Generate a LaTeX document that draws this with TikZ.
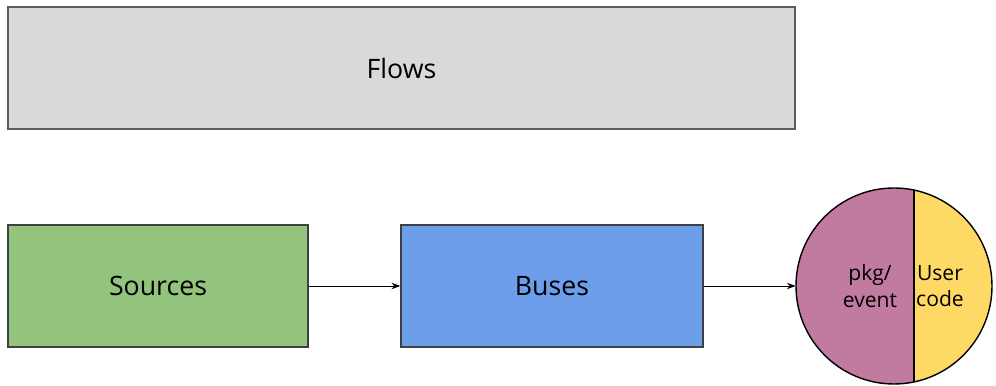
\documentclass[tikz,border=0pt]{standalone}
\usepackage{fontspec}
\setmainfont{Open Sans}
\usetikzlibrary{arrows.meta}
\definecolor{flowgray}{HTML}{D9D9D9}
\definecolor{srcgreen}{HTML}{93C47D}
\definecolor{busblue}{HTML}{6D9EEB}
\definecolor{pkgpink}{HTML}{C27BA0}
\definecolor{codeyellow}{HTML}{FFD966}
\definecolor{edgegray}{HTML}{404040}

\begin{document}
\begin{tikzpicture}[
    block/.style={draw=edgegray,line width=1pt,minimum height=3.05cm,font=\fontsize{19}{22}\selectfont},
    link/.style={-{Stealth[length=2.2mm,width=1.6mm]},line width=0.7pt},
    part/.style={font=\fontsize{15}{19}\selectfont,align=center}
]
\useasboundingbox (0,0) rectangle (24.9,9.65);

\node (flows) at (10.0375,7.95) [block,fill=flowgray,minimum width=19.675cm,draw=edgegray!85,line width=1.3pt] {Flows};

\node (sources) at (3.95,2.5) [block,fill=srcgreen,minimum width=7.5cm] {Sources};
\node (buses) at (13.8,2.5) [block,fill=busblue,minimum width=7.55cm] {Buses};

% handler: pkg/event on the left, user code on the right
\node (handler) at (22.35,2.5) [circle,minimum size=4.9cm,fill=pkgpink] {};
\begin{scope}
\clip (handler.center) circle (2.45);
\fill[codeyellow] (22.85,0) rectangle (24.9,5);
\draw[line width=1pt] (22.85,0) -- (22.85,5);
\end{scope}
\draw[line width=1pt] (handler.center) circle (2.45);
\node (pkg) at (21.75,2.5) [part] {pkg/\\event};
\node (user) at (23.5,2.5) [part] {User\\code};

\draw[link] (sources.east) to (buses.west);
\draw[link] (buses.east) to (handler.west);

\end{tikzpicture}
\end{document}
